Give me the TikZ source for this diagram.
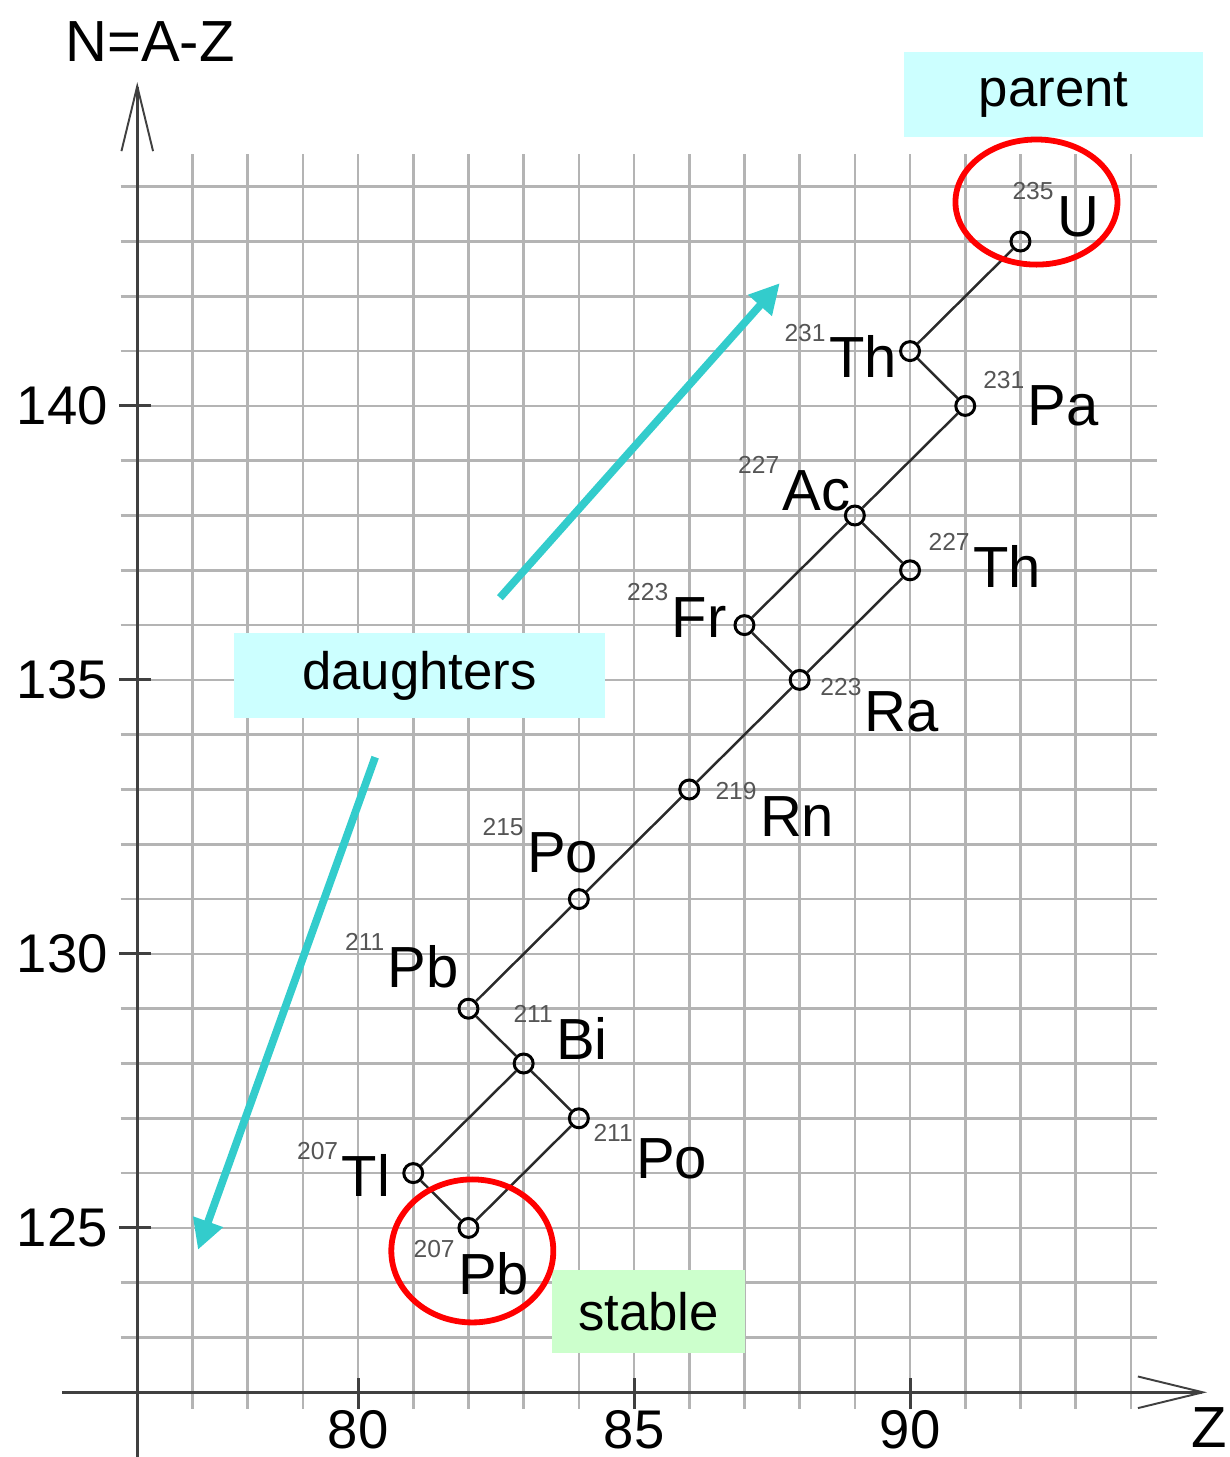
\documentclass[tikz,border=0pt]{standalone}
\usepackage{fontspec}
\setmainfont{Liberation Sans}
\usepackage{xcolor}
\usetikzlibrary{positioning, arrows.meta}
\definecolor{gridline}{HTML}{B4B4B4}
\definecolor{axisline}{HTML}{404040}
\definecolor{decay}{HTML}{2A2A2A}
\definecolor{massno}{HTML}{555555}
\definecolor{flow}{HTML}{33CCCC}
\definecolor{ring}{HTML}{FF0000}
\definecolor{tagcyan}{HTML}{CCFFFF}
\definecolor{taggreen}{HTML}{CCFFCC}
\newcommand{\nuclide}[2]{\raisebox{21pt}{\fontsize{14}{14}\selectfont\color{massno}#1}\kern2pt#2}

\begin{document}
\begin{tikzpicture}[
    x=1.104cm, y=1.096cm,
    nuc/.style={circle, draw=black, line width=1.7pt, minimum size=10.8pt, inner sep=0pt},
    decayline/.style={decay, line width=1.4pt},
    sym/.style={inner sep=0pt, anchor=base west, font=\fontsize{33}{33}\selectfont},
    ticklabel/.style={inner sep=0pt, font=\fontsize{31}{31}\selectfont},
    axtick/.style={axisline, line width=1.7pt},
    axis/.style={axisline, line width=1.6pt, -{Straight Barb[length=37pt, width=18pt, line width=1.1pt]}},
    tag/.style={inner sep=0pt, font=\fontsize{30}{30}\selectfont},
    flowarrow/.style={flow, line width=4.4pt, -{Triangle[length=17pt, width=17pt]}},
    ringline/.style={ring, line width=3.3pt}
  ]
    \useasboundingbox (73.5145,120.821) rectangle (95.797,147.409);

    % grid
    \foreach \z in {77,...,94}
      \draw[gridline, line width=1.5pt] (\z,121.7) -- (\z,144.6);
    \foreach \n in {123,...,144}
      \draw[gridline, line width=1.5pt] (75.7,\n) -- (94.47,\n);

    % axes
    \draw[axis] (76,120.821) -- (76,145.91);
    \draw[axis] (74.64,122) -- (95.38,122);
    \foreach \n in {125,130,135,140} {
      \draw[axtick] (75.67,\n) -- (76.25,\n);
      \node[ticklabel, anchor=east] (n\n) at (75.47,\n) {\n};
    }
    \foreach \z in {80,85,90} {
      \draw[axtick] (\z,121.70) -- (\z,122.26);
      \node[ticklabel, anchor=north] (z\z) at (\z,121.68) {\z};
    }
    \node[sym] (ntitle) at (74.69,146.28) {N=A-Z};
    \node[sym] (ztitle) at (95.09,120.99) {Z};

    % tags
    \node[tag, fill=tagcyan, minimum width=170pt, minimum height=48.4pt] (parent) at (92.60,145.68) {parent};
    \node[tag, fill=tagcyan, minimum width=211pt, minimum height=48.4pt] (daughters) at (81.11,135.08) {daughters};
    \node[tag, fill=taggreen, minimum width=110pt, minimum height=47.2pt] (stable) at (85.26,123.48) {stable};

    % direction arrows
    \coordinate (upstart) at (82.57,136.50);
    \coordinate (uptip) at (87.64,142.24);
    \coordinate (downstart) at (80.31,133.59);
    \coordinate (downtip) at (77.10,124.60);
    \draw[flowarrow] (upstart) -- (uptip);
    \draw[flowarrow] (downstart) -- (downtip);

    % nuclides
    \node[nuc] (u235) at (92,143) {};
    \node[nuc] (th231) at (90,141) {};
    \node[nuc] (pa231) at (91,140) {};
    \node[nuc] (ac227) at (89,138) {};
    \node[nuc] (th227) at (90,137) {};
    \node[nuc] (fr223) at (87,136) {};
    \node[nuc] (ra223) at (88,135) {};
    \node[nuc] (rn219) at (86,133) {};
    \node[nuc] (po215) at (84,131) {};
    \node[nuc] (pb211) at (82,129) {};
    \node[nuc] (bi211) at (83,128) {};
    \node[nuc] (po211) at (84,127) {};
    \node[nuc] (tl207) at (81,126) {};
    \node[nuc] (pb207) at (82,125) {};

    % decay chain
    \draw[decayline] (u235) -- (th231);
    \draw[decayline] (th231) -- (pa231);
    \draw[decayline] (pa231) -- (ac227);
    \draw[decayline] (ac227) -- (fr223);
    \draw[decayline] (ac227) -- (th227);
    \draw[decayline] (fr223) -- (ra223);
    \draw[decayline] (th227) -- (ra223);
    \draw[decayline] (ra223) -- (rn219);
    \draw[decayline] (rn219) -- (po215);
    \draw[decayline] (po215) -- (pb211);
    \draw[decayline] (pb211) -- (bi211);
    \draw[decayline] (bi211) -- (tl207);
    \draw[decayline] (bi211) -- (po211);
    \draw[decayline] (tl207) -- (pb207);
    \draw[decayline] (po211) -- (pb207);

    % labels
    \node[sym] (lu235) at (91.85,143.10) {\nuclide{235}{U}};
    \node[sym] (lth231) at (87.72,140.51) {\nuclide{231}{Th}};
    \node[sym] (lpa231) at (91.32,139.65) {\nuclide{231}{Pa}};
    \node[sym] (lac227) at (86.88,138.10) {\nuclide{227}{Ac}};
    \node[sym] (lth227) at (90.33,136.68) {\nuclide{227}{Th}};
    \node[sym] (lfr223) at (84.87,135.78) {\nuclide{223}{Fr}};
    \node[sym] (lra223) at (88.37,134.05) {\nuclide{223}{Ra}};
    \node[sym] (lrn219) at (86.47,132.14) {\nuclide{219}{Rn}};
    \node[sym] (lpo215) at (82.25,131.48) {\nuclide{215}{Po}};
    \node[sym] (lpb211) at (79.76,129.38) {\nuclide{211}{Pb}};
    \node[sym] (lbi211) at (82.81,128.07) {\nuclide{211}{Bi}};
    \node[sym] (lpo211) at (84.26,125.91) {\nuclide{211}{Po}};
    \node[sym] (ltl207) at (78.89,125.57) {\nuclide{207}{Tl}};
    \node[sym] (lpb207) at (81.00,123.78) {\nuclide{207}{Pb}};

    % rings
    \draw[ringline] (92.29,143.72) ellipse [x radius=46.1pt, y radius=35.6pt];
    \draw[ringline] (82.07,124.58) ellipse [x radius=46.1pt, y radius=40.7pt];
  \end{tikzpicture}
\end{document}
